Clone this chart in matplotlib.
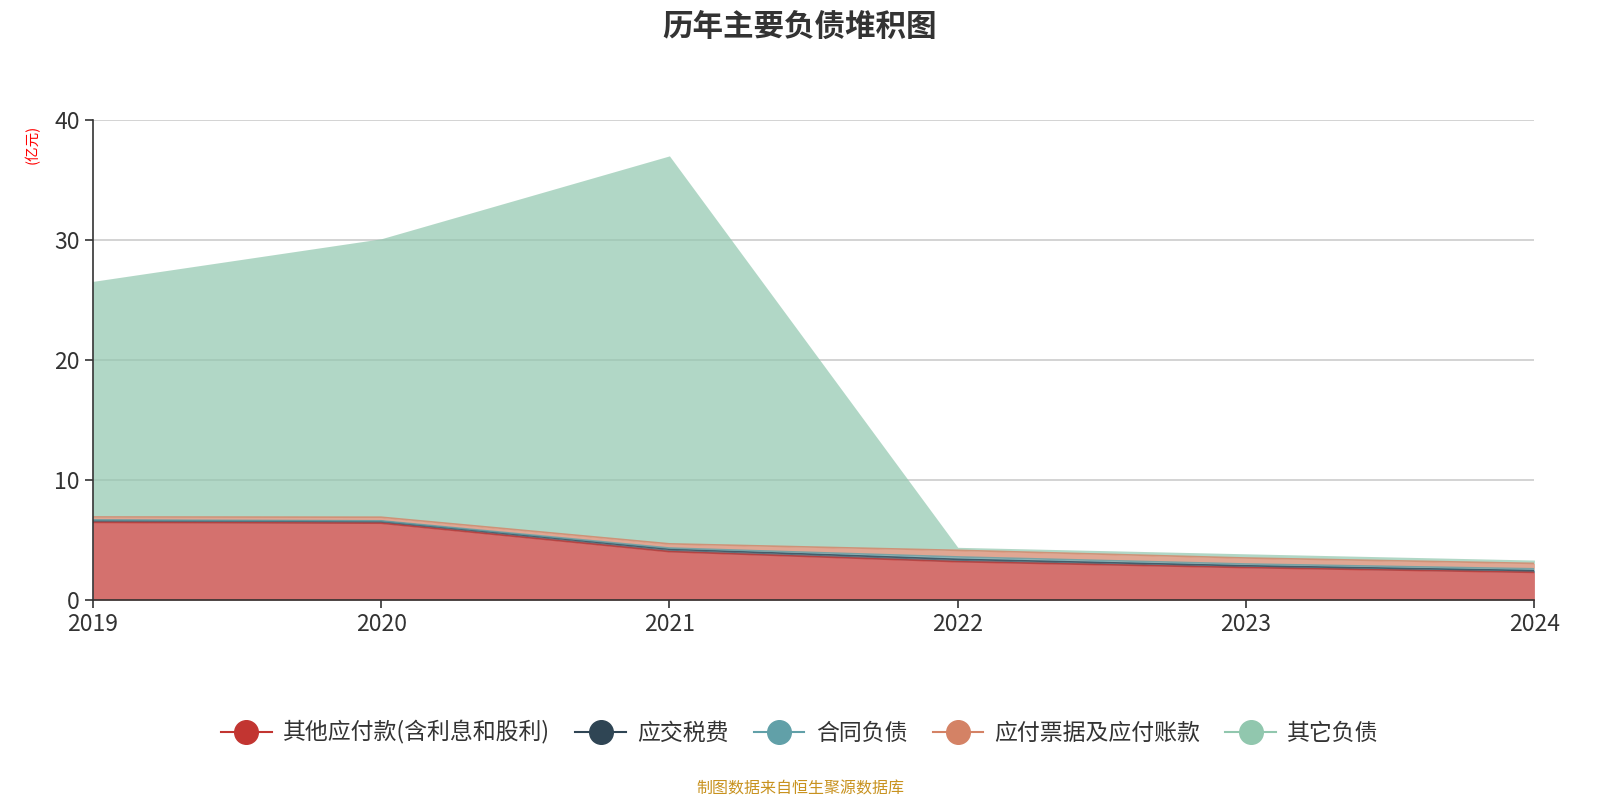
import matplotlib
matplotlib.use("Agg")
import matplotlib.pyplot as plt
from matplotlib.lines import Line2D
import numpy as np

plt.rcParams["font.family"] = ["Noto Sans CJK SC", "DejaVu Sans"]

years = ["2019", "2020", "2021", "2022", "2023", "2024"]
other_payables = [6.47, 6.40, 4.03, 3.19, 2.70, 2.30]
taxes_payable = [0.15, 0.15, 0.20, 0.20, 0.15, 0.15]
contract_liab = [0.05, 0.05, 0.10, 0.20, 0.15, 0.15]
notes_accounts = [0.25, 0.30, 0.35, 0.55, 0.50, 0.45]
other_liab = [19.63, 23.20, 32.33, 0.25, 0.35, 0.28]

names = ["其他应付款(含利息和股利)", "应交税费", "合同负债", "应付票据及应付账款", "其它负债"]
colors = ["#c23531", "#2f4554", "#61a0a8", "#d48265", "#91c7ae"]
series = [other_payables, taxes_payable, contract_liab, notes_accounts, other_liab]

fig = plt.figure(figsize=(16, 8), dpi=100)
ax = fig.add_axes([0.058, 0.25, 0.901, 0.60])

x = np.arange(len(years))
base = np.zeros(len(years))
for i, (vals, c) in enumerate(zip(series, colors)):
    top = base + np.array(vals)
    ax.fill_between(x, base, top, color=c, alpha=0.7, linewidth=0)
    if i < len(series) - 1:
        ax.plot(x, top, color=c, lw=1.2, alpha=0.8)
    base = top

ax.set_xlim(0, len(years) - 1)
ax.set_ylim(0, 40)
ax.set_xticks(x)
ax.set_xticklabels(years)
ax.set_yticks([0, 10, 20, 30, 40])
ax.tick_params(axis="both", labelsize=16.5, colors="#333333", length=6, width=1.2)
ax.grid(axis="y", color="#cccccc", lw=1.2)
ax.set_axisbelow(True)
for s in ["top", "right"]:
    ax.spines[s].set_visible(False)
for s in ["left", "bottom"]:
    ax.spines[s].set_color("#333333")
    ax.spines[s].set_linewidth(1.2)

fig.text(0.5, 0.967, "历年主要负债堆积图", ha="center", va="center",
         fontsize=22, fontweight="bold", color="#333333")
fig.text(0.02, 0.82, "(亿元)", rotation=90, ha="center", va="center",
         fontsize=10.5, color="#ff0000")

handles = [Line2D([0], [0], color=c, lw=1.5, marker="o", markersize=17,
                  markerfacecolor=c, markeredgecolor=c) for c in colors]
leg = fig.legend(handles, names, loc="center", bbox_to_anchor=(0.5, 0.084), ncol=5,
                 frameon=False, fontsize=16.5, handlelength=2.2, handletextpad=0.5,
                 columnspacing=1.1)
for t in leg.get_texts():
    t.set_color("#333333")

fig.text(0.5, 0.014, "制图数据来自恒生聚源数据库", ha="center", va="center",
         fontsize=11.5, color="#c8921f")

fig.savefig("out.png", dpi=100)
